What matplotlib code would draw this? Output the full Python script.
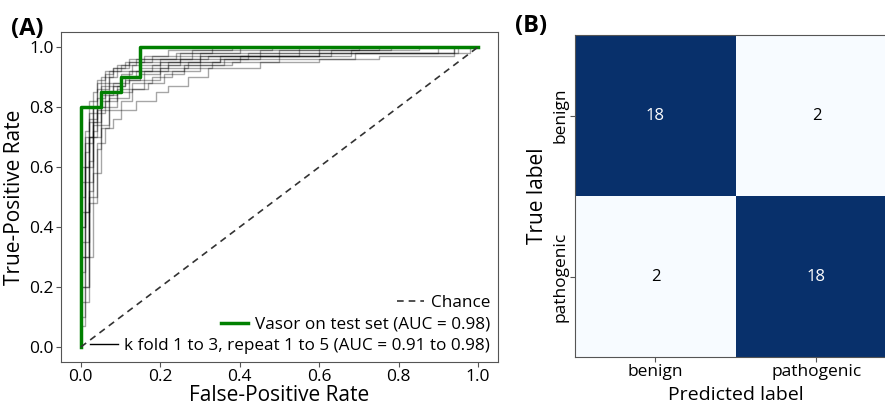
import numpy as np
import matplotlib
matplotlib.use("Agg")
import matplotlib.pyplot as plt

plt.rcParams['font.family'] = ['Open Sans', 'DejaVu Sans']

# test set ROC (steps: fpr where tpr jumps, new tpr)
test_fpr = [0.0, 0.0, 0.05, 0.10, 0.15, 1.0]
test_tpr = [0.0, 0.80, 0.85, 0.90, 1.00, 1.00]

# cross-validation ROC curves (k fold 1 to 3, repeat 1 to 5)
cv_fpr = [
    [0, 0.01, 0.02, 0.03, 0.05, 0.07, 0.10, 0.15, 0.22, 0.35, 0.60, 0.95],
    [0, 0.02, 0.03, 0.04, 0.06, 0.08, 0.12, 0.20, 0.30, 0.45, 0.75],
    [0, 0.01, 0.03, 0.05, 0.07, 0.09, 0.15, 0.25, 0.40],
    [0, 0.02, 0.04, 0.06, 0.08, 0.10, 0.14, 0.19, 0.22, 0.27, 0.32, 0.45, 0.60, 0.69, 0.94],
    [0, 0.01, 0.02, 0.03, 0.04, 0.06, 0.08, 0.12, 0.18, 0.28, 0.50, 0.70],
    [0, 0.01, 0.03, 0.05, 0.07, 0.09, 0.11, 0.14, 0.18, 0.25, 0.32, 0.55, 0.98],
    [0, 0.02, 0.04, 0.06, 0.10, 0.13, 0.20, 0.30, 0.55],
    [0, 0.02, 0.03, 0.05, 0.08, 0.11, 0.15, 0.20, 0.27, 0.35, 0.50, 0.68, 0.85],
    [0, 0.01, 0.02, 0.04, 0.05, 0.07, 0.10, 0.14, 0.24, 0.33],
    [0, 0.02, 0.04, 0.07, 0.09, 0.12, 0.16, 0.22, 0.30, 0.42, 0.60],
    [0, 0.02, 0.03, 0.05, 0.06, 0.09, 0.13, 0.18, 0.23, 0.30, 0.38, 0.50, 0.75, 0.94],
    [0, 0.01, 0.02, 0.04, 0.06, 0.09, 0.12, 0.18, 0.28, 0.48],
    [0, 0.03, 0.05, 0.07, 0.09, 0.12, 0.16, 0.20, 0.26, 0.36, 0.45, 0.63, 0.78],
    [0, 0.01, 0.03, 0.05, 0.07, 0.08, 0.11, 0.16, 0.22, 0.38],
    [0, 0.02, 0.04, 0.05, 0.07, 0.10, 0.13, 0.17, 0.21, 0.26, 0.33, 0.40, 0.60, 0.90],
]
cv_tpr = [
    [0.07, 0.45, 0.70, 0.75, 0.82, 0.87, 0.90, 0.93, 0.95, 0.97, 0.98, 1.0],
    [0.30, 0.60, 0.72, 0.80, 0.85, 0.88, 0.92, 0.95, 0.97, 0.99, 1.0],
    [0.50, 0.70, 0.80, 0.87, 0.90, 0.92, 0.95, 0.98, 1.0],
    [0.20, 0.50, 0.68, 0.73, 0.76, 0.79, 0.82, 0.85, 0.87, 0.90, 0.93, 0.95, 0.96, 0.98, 1.0],
    [0.40, 0.65, 0.78, 0.85, 0.89, 0.91, 0.93, 0.95, 0.96, 0.97, 0.99, 1.0],
    [0.10, 0.55, 0.74, 0.80, 0.84, 0.87, 0.90, 0.92, 0.94, 0.96, 0.97, 0.98, 1.0],
    [0.60, 0.75, 0.83, 0.88, 0.91, 0.94, 0.96, 0.98, 1.0],
    [0.35, 0.62, 0.78, 0.84, 0.87, 0.89, 0.91, 0.93, 0.95, 0.96, 0.97, 0.99, 1.0],
    [0.25, 0.60, 0.76, 0.86, 0.90, 0.92, 0.94, 0.96, 0.98, 1.0],
    [0.45, 0.70, 0.79, 0.83, 0.86, 0.89, 0.92, 0.94, 0.96, 0.98, 1.0],
    [0.15, 0.52, 0.70, 0.78, 0.82, 0.85, 0.88, 0.90, 0.92, 0.94, 0.95, 0.96, 0.97, 1.0],
    [0.55, 0.72, 0.82, 0.88, 0.92, 0.94, 0.96, 0.97, 0.99, 1.0],
    [0.30, 0.58, 0.73, 0.80, 0.83, 0.86, 0.89, 0.92, 0.94, 0.96, 0.97, 0.99, 1.0],
    [0.40, 0.68, 0.80, 0.86, 0.90, 0.93, 0.95, 0.97, 0.99, 1.0],
    [0.20, 0.48, 0.66, 0.74, 0.79, 0.82, 0.86, 0.88, 0.91, 0.93, 0.95, 0.97, 0.98, 1.0],
]

# confusion matrix
class_names = ['benign', 'pathogenic']
conf_mat = np.array([[18, 2], [2, 18]])

fig = plt.figure(figsize=(8.85, 4.03), dpi=100)
ax1 = fig.add_axes([0.0689, 0.1017, 0.4938, 0.819])
ax2 = fig.add_axes([0.6497, 0.1141, 0.3638, 0.799])

# ---- (A) ROC ----
for i, (fx, ty) in enumerate(zip(cv_fpr, cv_tpr)):
    xs = [0] + fx + [1.0]
    ys = [0] + ty + [ty[-1]]
    ax1.plot(xs, ys, drawstyle='steps-post', color='black', alpha=0.35, lw=1,
             label='k fold 1 to 3, repeat 1 to 5 (AUC = 0.91 to 0.98)' if i == 0 else None)
ax1.plot(test_fpr + [1.0], test_tpr + [1.0], drawstyle='steps-post', color='green', lw=2.5,
         label='Vasor on test set (AUC = 0.98)')
ax1.plot([0, 1], [0, 1], '--', color='#333333', lw=1.2, dashes=(4, 3), label='Chance')

ax1.set_xlim(-0.05, 1.05)
ax1.set_ylim(-0.05, 1.05)
ax1.set_xlabel('False-Positive Rate', fontsize=15, labelpad=0)
ax1.set_ylabel('True-Positive Rate', fontsize=15, labelpad=3)
ax1.tick_params(labelsize=12.5, color='#555555', length=3.5, pad=1.5)
for sp in ax1.spines.values():
    sp.set_color('#555555')

h, l = ax1.get_legend_handles_labels()
leg = ax1.legend(h[::-1], l[::-1], loc='lower right', frameon=False, fontsize=12.3,
                 handlelength=1.6, handletextpad=0.4, borderaxespad=0.25,
                 borderpad=0.2, labelspacing=0.32)
leg.legend_handles[2].set_alpha(1)
# right-align the entries, marker first
leg._legend_handle_box.get_children()[0].align = 'right'

# ---- (B) confusion matrix ----
ax2.imshow(conf_mat, cmap='Blues', vmin=2, vmax=18, aspect='auto')
for r in range(2):
    for c in range(2):
        v = conf_mat[r, c]
        ax2.text(c, r, str(v), ha='center', va='center', fontsize=12,
                 color='white' if v > 9 else 'black')
ax2.set_xticks(range(2))
ax2.set_xticklabels(class_names, fontsize=12.5)
ax2.set_yticks(range(2))
ax2.set_yticklabels(class_names, fontsize=12.5, rotation=90, va='center')
ax2.tick_params(length=3.5, pad=1.5, color='#555555')
ax2.set_xlabel('Predicted label', fontsize=14, labelpad=4)
ax2.set_ylabel('True label', fontsize=15, labelpad=3)
for sp in ax2.spines.values():
    sp.set_color('#555555')

fig.text(0.012, 0.913, '(A)', fontsize=17, fontweight='bold', va='baseline')
fig.text(0.582, 0.92, '(B)', fontsize=17, fontweight='bold', va='baseline')

fig.savefig('out.png', dpi=100)
